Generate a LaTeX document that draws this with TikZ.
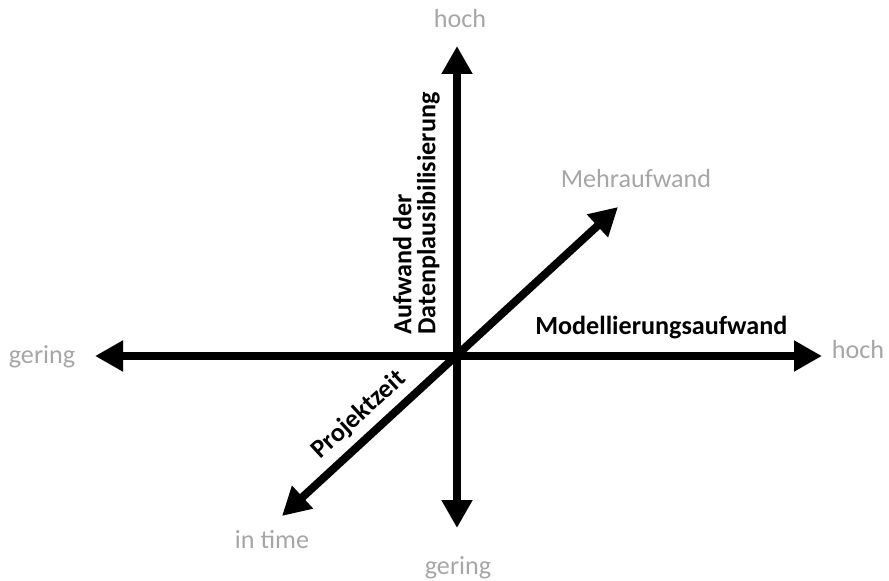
\documentclass[tikz,border=0pt]{standalone}
\usepackage{fontspec}
\setmainfont{Carlito}
\usetikzlibrary{arrows.meta}
\definecolor{labgray}{RGB}{166,166,166}
\begin{document}
\begin{tikzpicture}[x=0.75pt,y=-0.75pt,
  axis/.style={line width=6pt,{Triangle[length=21pt,width=22pt]}-{Triangle[length=21pt,width=22pt]}},
  endlabel/.style={text=labgray,font=\fontsize{19.6}{23}\selectfont,anchor=base,inner sep=0pt},
  axislabel/.style={font=\fontsize{19.6}{18}\selectfont\bfseries,inner sep=0pt}]
\useasboundingbox (0,0) rectangle (889,581);
% arrow tips
\coordinate (T) at (457,46);
\coordinate (B) at (457,528);
\coordinate (L) at (95,356);
\coordinate (R) at (822,356);
\coordinate (UR) at (618,207);
\coordinate (LL) at (282,516);
\draw[axis] (B) -- (T);
\draw[axis] (L) -- (R);
\draw[axis] (LL) -- (UR);
% end labels
\node[endlabel] (hochT) at (460,28) {hoch};
\node[endlabel] (geringB) at (458,574) {gering};
\node[endlabel] (geringL) at (42,363) {gering};
\node[endlabel] (hochR) at (858,358) {hoch};
\node[endlabel] (mehr) at (636,188) {Mehraufwand};
\node[endlabel] (intime) at (272,548) {in time};
% axis labels
\node[axislabel,anchor=base west] (model) at (535,334) {Modellierungsaufwand};
\node[axislabel,rotate=90,anchor=south west,align=left] (aufw) at (440,335) {Aufwand der\\Datenplausibilisierung};
\node[axislabel,rotate=42.6] (proj) at (359,415) {Projektzeit};
\end{tikzpicture}
\end{document}
